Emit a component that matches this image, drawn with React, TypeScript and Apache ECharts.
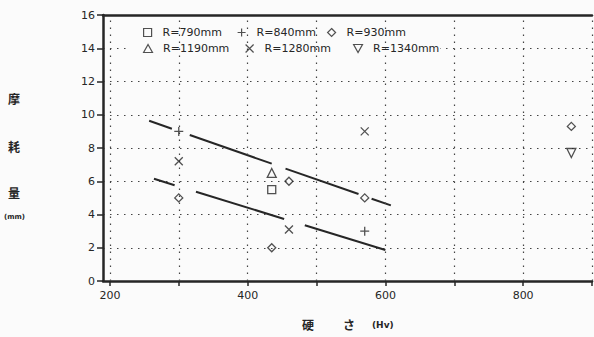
import React, { useEffect, useRef } from "react";
import * as echarts from "echarts";

const xTickValues = [200, 300, 400, 500, 600, 700, 800, 900];
const xLabelValues = [200, 400, 600, 800];
const xGridValues = [200, 300, 400, 500, 600, 700, 800];
const xBorderValue = 900;

const seriesNames = ["R=790mm", "R=840mm", "R=930mm", "R=1190mm", "R=1280mm", "R=1340mm"];
const r790: number[][] = [[435, 5.5]];
const r840: number[][] = [[300, 9.0], [570, 3.0]];
const r930: number[][] = [[300, 5.0], [460, 6.0], [435, 2.0], [570, 5.0], [870, 9.3]];
const r1190: number[][] = [[435, 6.5]];
const r1280: number[][] = [[300, 7.2], [460, 3.1], [570, 9.0]];
const r1340: number[][] = [[870, 7.7]];

// regression lines, drawn as broken segments (gaps around the markers)
const upperSegments: number[][][] = [
  [[257, 9.64], [290, 9.16]],
  [[316, 8.78], [435, 7.06]],
  [[455, 6.76], [561, 5.23]],
  [[580, 4.95], [608, 4.55]],
];
const lowerSegments: number[][][] = [
  [[264, 6.15], [294, 5.76]],
  [[325, 5.37], [453, 3.73]],
  [[483, 3.35], [600, 1.86]],
];

const RECT = "path://M0,0L10,0L10,10L0,10Z";
const PLUS = "path://M5,0L5,10M0,5L10,5";
const DIAMOND = "path://M5,0L10,5L5,10L0,5Z";
const TRI_UP = "path://M5,0L10,9L0,9Z";
const CROSS = "path://M0,0L10,10M10,0L0,10";
const TRI_DOWN = "path://M0,0L10,0L5,9Z";

const legendLeft = [143, 237, 327, 143, 245, 353];
const legendTop = [27, 27, 27, 43, 43, 43];

export default function App() {
  const ref = useRef<HTMLDivElement>(null);
  useEffect(() => {
    if (!ref.current) return;
    const chart = echarts.init(ref.current, null, { renderer: "svg" });
    const ink = "#262626";
    const bg = "#fbfbfb";
    const font = "DejaVu Sans";
    const markerStyle = { color: "transparent", borderColor: ink, borderWidth: 1.3 };
    const scatter = (name: string, data: number[][], symbol: string, size: number) => ({
      type: "scatter",
      name,
      data,
      symbol,
      symbolSize: size,
      itemStyle: markerStyle,
      z: 5,
    });
    const seg = (d: number[][]) => ({
      type: "line",
      data: d,
      symbol: "none",
      lineStyle: { color: ink, width: 2 },
      z: 4,
    });
    const option: any = {
      animation: false,
      backgroundColor: bg,
      grid: { left: 103, right: 2, top: 15, bottom: 56 },
      xAxis: [
        {
          type: "value",
          min: 190,
          max: 900,
          axisLine: { show: true, onZero: false, lineStyle: { color: ink, width: 2.5 } },
          axisTick: { show: true, customValues: xTickValues, length: 5, lineStyle: { color: ink, width: 1.5 } },
          axisLabel: { customValues: xLabelValues, margin: 9, color: ink, fontFamily: font, fontSize: 11 },
          splitLine: { show: false },
        },
        {
          type: "value",
          position: "top",
          min: 190,
          max: 900,
          axisLine: { show: true, onZero: false, lineStyle: { color: ink, width: 2.5 } },
          axisTick: { show: false },
          axisLabel: { show: false },
          splitLine: { show: false },
        },
      ],
      yAxis: {
        type: "value",
        min: 0,
        max: 16,
        interval: 2,
        axisLine: { show: true, lineStyle: { color: ink, width: 2.5 } },
        axisTick: { show: true, length: 6, lineStyle: { color: ink, width: 1.5 } },
        axisLabel: { margin: 8, color: ink, fontFamily: font, fontSize: 11 },
        splitLine: { show: true, lineStyle: { color: "#444", width: 1.2, type: [1.5, 5.5] } },
      },
      legend: seriesNames.map((n, i) => ({
        data: [n],
        left: legendLeft[i],
        top: legendTop[i],
        padding: 0,
        itemWidth: 20,
        itemHeight: 8,
        itemStyle: { color: "transparent", borderColor: ink, borderWidth: 1.2 },
        textStyle: { color: ink, fontFamily: font, fontSize: 11 },
        z: 20,
      })),
      graphic: [
        { type: "rect", z: 3, shape: { x: 128, y: 24, width: 312, height: 35 }, style: { fill: bg } },
        { type: "text", left: 8, top: 92, style: { text: "摩", font: "bold 12px 'Noto Sans CJK JP'", fill: ink } },
        { type: "text", left: 8, top: 140, style: { text: "耗", font: "bold 12px 'Noto Sans CJK JP'", fill: ink } },
        { type: "text", left: 8, top: 186, style: { text: "量", font: "bold 12px 'Noto Sans CJK JP'", fill: ink } },
        { type: "text", left: 4, top: 213, style: { text: "(mm)", font: "bold 7px 'DejaVu Sans'", fill: ink } },
        { type: "text", left: 302, top: 318, style: { text: "硬", font: "bold 12px 'Noto Sans CJK JP'", fill: ink } },
        { type: "text", left: 343, top: 318, style: { text: "さ", font: "bold 12px 'Noto Sans CJK JP'", fill: ink } },
        { type: "text", left: 372, top: 320, style: { text: "(Hv)", font: "bold 9px 'DejaVu Sans'", fill: ink } },
      ],
      series: [
        {
          type: "scatter",
          data: [],
          silent: true,
          markLine: {
            silent: true,
            symbol: "none",
            label: { show: false },
            lineStyle: { color: "#444", width: 1.2, type: [1.5, 5.5] },
            data: [...xGridValues.map((v) => ({ xAxis: v })), { xAxis: xBorderValue }],
          },
        },
        scatter(seriesNames[0], r790, RECT, 8),
        scatter(seriesNames[1], r840, PLUS, 9),
        scatter(seriesNames[2], r930, DIAMOND, 8),
        scatter(seriesNames[3], r1190, TRI_UP, 9),
        scatter(seriesNames[4], r1280, CROSS, 8),
        scatter(seriesNames[5], r1340, TRI_DOWN, 9),
        ...upperSegments.map(seg),
        ...lowerSegments.map(seg),
      ],
    };
    chart.setOption(option);
    return () => chart.dispose();
  }, []);
  return <div ref={ref} style={{ position: "absolute", left: 0, top: 0, width: 594, height: 337 }} />;
}
